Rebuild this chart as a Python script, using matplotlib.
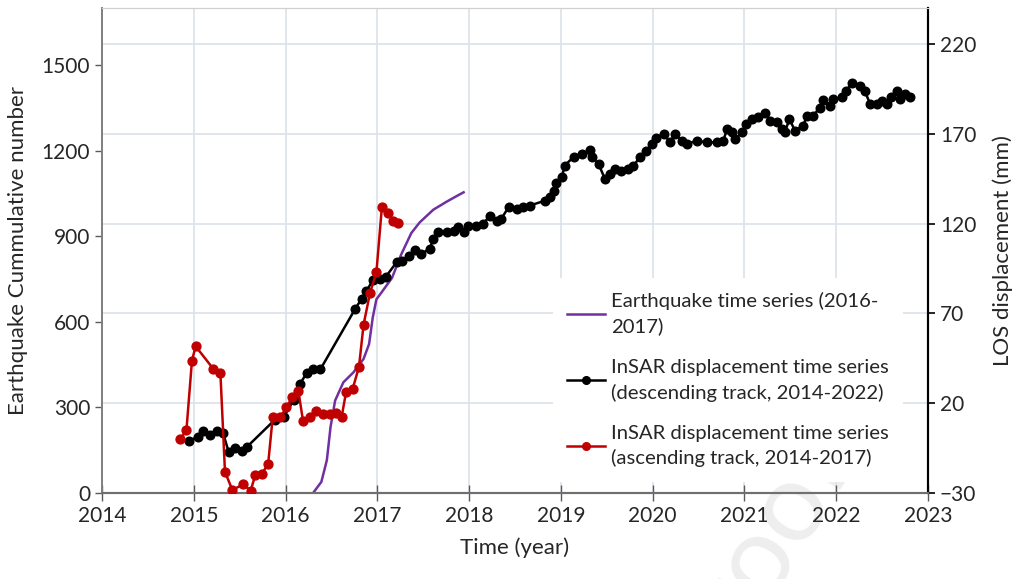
import matplotlib
matplotlib.use("Agg")
import matplotlib.pyplot as plt
from matplotlib.lines import Line2D

plt.rcParams['font.family'] = ['Lato', 'DejaVu Sans']

# Earthquake cumulative number (left axis)
eq_year = [2016.30, 2016.39, 2016.45, 2016.49, 2016.54, 2016.63, 2016.74, 2016.85,
           2016.91, 2016.95, 2016.99, 2017.05, 2017.16, 2017.26, 2017.37, 2017.46,
           2017.61, 2017.76, 2017.86, 2017.94]
eq_count = [0, 39, 115, 231, 324, 388, 423, 470,
            522, 615, 679, 705, 754, 836, 911, 948,
            993, 1022, 1040, 1054]

# InSAR descending track (right axis, mm)
desc_year = [2014.95, 2015.05, 2015.10, 2015.18, 2015.25, 2015.32, 2015.38, 2015.45,
             2015.52, 2015.58, 2015.88, 2015.98, 2016.09, 2016.16, 2016.23, 2016.30,
             2016.38, 2016.76, 2016.83, 2016.88, 2016.95, 2017.03, 2017.09, 2017.21,
             2017.27, 2017.34, 2017.41, 2017.48, 2017.57, 2017.61, 2017.66, 2017.76,
             2017.83, 2017.88, 2017.94, 2017.99, 2018.08, 2018.15, 2018.23, 2018.30,
             2018.35, 2018.43, 2018.52, 2018.59, 2018.66, 2018.83, 2018.88, 2018.92,
             2018.95, 2019.01, 2019.04, 2019.14, 2019.23, 2019.32, 2019.34, 2019.41,
             2019.48, 2019.53, 2019.59, 2019.66, 2019.73, 2019.79, 2019.86, 2019.93,
             2019.99, 2020.04, 2020.12, 2020.19, 2020.24, 2020.32, 2020.37, 2020.48,
             2020.59, 2020.70, 2020.77, 2020.81, 2020.86, 2020.90, 2020.97, 2021.02,
             2021.08, 2021.15, 2021.22, 2021.28, 2021.35, 2021.41, 2021.44, 2021.49,
             2021.55, 2021.64, 2021.68, 2021.75, 2021.82, 2021.86, 2021.93, 2021.97,
             2022.06, 2022.11, 2022.17, 2022.26, 2022.31, 2022.37, 2022.44, 2022.50,
             2022.55, 2022.60, 2022.66, 2022.69, 2022.75, 2022.80]
desc_mm = [-0.9, 1.3, 4.4, 2.2, 4.4, 3.2, -7.1, -5.2,
           -6.5, -4.3, 10.6, 12.4, 22.0, 30.9, 36.8, 39.3,
           38.9, 72.6, 78.2, 82.4, 88.3, 89.3, 90.2, 98.5,
           99.1, 102.2, 105.0, 103.2, 105.9, 111.5, 115.2, 115.2,
           116.1, 118.0, 115.2, 118.9, 118.9, 119.8, 124.4, 121.7,
           122.6, 129.1, 128.2, 129.1, 130.0, 132.8, 134.6, 138.3,
           142.4, 145.7, 152.2, 157.2, 158.7, 160.9, 156.8, 153.2,
           144.8, 147.6, 150.4, 149.4, 150.4, 152.2, 156.8, 160.6,
           164.3, 167.9, 169.8, 165.2, 169.8, 166.1, 164.3, 166.1,
           165.2, 165.2, 166.1, 172.6, 170.7, 167.1, 170.7, 175.4,
           178.2, 179.1, 181.8, 177.2, 176.3, 172.6, 170.7, 178.2,
           171.7, 174.4, 180.0, 180.0, 184.6, 188.7, 185.6, 189.3,
           190.2, 193.9, 198.5, 196.7, 193.9, 186.5, 186.5, 188.3,
           186.5, 190.2, 193.9, 189.3, 192.1, 190.6]

# InSAR ascending track (right axis, mm)
asc_year = [2014.85, 2014.92, 2014.98, 2015.02, 2015.21, 2015.29, 2015.34, 2015.42,
            2015.54, 2015.62, 2015.67, 2015.74, 2015.81, 2015.86, 2015.94, 2016.01,
            2016.07, 2016.14, 2016.19, 2016.27, 2016.33, 2016.41, 2016.48, 2016.55,
            2016.61, 2016.66, 2016.73, 2016.80, 2016.85, 2016.92, 2016.99, 2017.05,
            2017.12, 2017.17, 2017.22]
asc_mm = [-0.2, 5.0, 43.5, 51.7, 39.3, 37.0, -18.2, -28.3,
          -25.2, -28.7, -20.0, -19.4, -13.9, 12.1, 12.1, 17.6,
          23.2, 26.8, 10.2, 12.4, 15.7, 13.9, 13.9, 14.6,
          12.1, 26.3, 27.8, 40.2, 63.7, 81.3, 92.9, 129.4,
          125.7, 121.3, 120.4]

x_ticks = list(range(2014, 2024))
left_ticks = [0, 300, 600, 900, 1200, 1500]
right_ticks = [-30, 20, 70, 120, 170, 220]

fig = plt.figure(figsize=(10.17, 5.79), dpi=100)
ax1 = fig.add_axes([102/1017, 1-493/579, (928-102)/1017, (493-8)/579])
ax2 = ax1.twinx()

L0, L1 = 0, 1700
R0, R1 = -30, 240
ax1.set_ylim(L0, L1)
ax2.set_ylim(R0, R1)
ax1.set_xlim(2014, 2023)

# watermark (behind everything)
fig.text(0.74, 0.04, 'Proof', fontsize=80, color='#EEEEEE', rotation=58,
         ha='center', va='center', zorder=-5)

grid_c = '#DCE1EA'
ax1.set_xticks(x_ticks)
ax1.grid(axis='x', color=grid_c, linewidth=1.2, zorder=0)
minor_pos = [L0 + (r - R0) * (L1 - L0) / (R1 - R0) for r in right_ticks[1:]]
ax1.set_yticks(minor_pos, minor=True)
ax1.grid(axis='y', which='minor', color=grid_c, linewidth=1.2, zorder=0)
ax1.tick_params(axis='y', which='minor', length=0)
ax1.set_axisbelow(True)
ax1.patch.set_alpha(0)

ax1.plot(eq_year, eq_count, color='#7030A0', lw=1.8, zorder=3)
ax2.plot(desc_year, desc_mm, color='black', lw=1.8, marker='o', ms=6.2, zorder=3)
ax2.plot(asc_year, asc_mm, color='#C00000', lw=1.8, marker='o', ms=6.4, zorder=4)

ax1.set_yticks(left_ticks)
ax2.set_yticks(right_ticks)

fs = 15
ax1.tick_params(axis='y', which='major', labelsize=fs, direction='out', length=5, width=1,
                colors='#595959', labelcolor='#262626')
ax1.tick_params(axis='x', labelsize=fs, direction='inout', length=11, width=1, pad=4,
                colors='#595959', labelcolor='#262626')
ax2.tick_params(axis='y', labelsize=fs, direction='out', length=5, width=1.2,
                colors='black', labelcolor='#262626')

for ax in (ax1, ax2):
    ax.spines['top'].set_color('#D0D0D0')
    ax.spines['left'].set_color('#7F7F7F')
    ax.spines['bottom'].set_color('#6F6F6F')
    ax.spines['right'].set_color('black')
    ax.spines['bottom'].set_linewidth(1.5)
    ax.spines['left'].set_linewidth(1.2)
    ax.spines['right'].set_linewidth(1.5)
ax2.patch.set_visible(False)

ax1.set_xlabel('Time (year)', fontsize=16, color='#262626', labelpad=8)
ax1.set_ylabel('Earthquake Cummulative number', fontsize=16, color='#262626', labelpad=10)
ax2.set_ylabel('LOS displacement (mm)', fontsize=16, color='#262626', labelpad=12)

handles = [Line2D([], [], color='#7030A0', lw=1.8),
           Line2D([], [], color='black', lw=1.8, marker='o', ms=5.5),
           Line2D([], [], color='#C00000', lw=1.8, marker='o', ms=5.5)]
labels = ['Earthquake time series (2016-\n2017)',
          'InSAR displacement time series\n(descending track, 2014-2022)',
          'InSAR displacement time series\n(ascending track, 2014-2017)']
leg = ax2.legend(handles, labels, loc='upper left',
                 bbox_to_anchor=(553/1017, 1-278/579), bbox_transform=fig.transFigure,
                 frameon=True, facecolor='white', edgecolor='none', framealpha=1,
                 fancybox=False, fontsize=14.6, handlelength=1.85, handletextpad=0.3,
                 borderpad=0.7, labelspacing=1.15, borderaxespad=0)
for t in leg.get_texts():
    t.set_color('#262626')
    t.set_linespacing(1.5)
leg.set_zorder(10)

fig.savefig('out.png', dpi=100)
